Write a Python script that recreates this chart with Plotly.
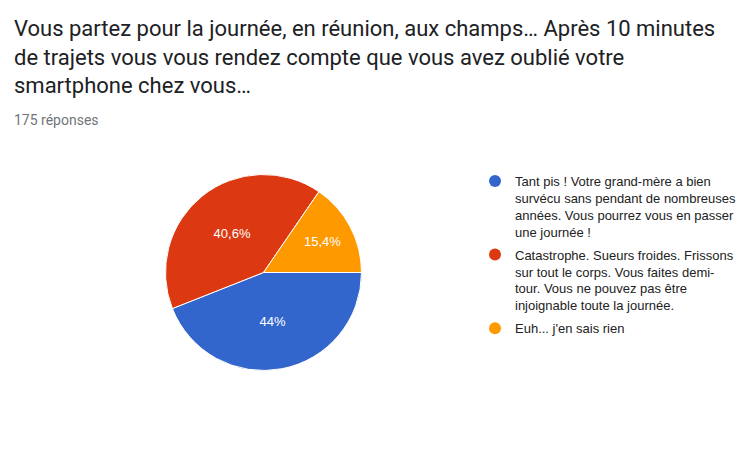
import plotly.graph_objects as go

title_lines = [
    "Vous partez pour la journée, en réunion, aux champs… Après 10 minutes",
    "de trajets vous vous rendez compte que vous avez oublié votre",
    "smartphone chez vous…",
]
subtitle = "175 réponses"
legend_lines = [
    ["Tant pis ! Votre grand-mère a bien", "survécu sans pendant de nombreuses",
     "années. Vous pourrez vous en passer", "une journée !"],
    ["Catastrophe. Sueurs froides. Frissons", "sur tout le corps. Vous faites demi-",
     "tour. Vous ne pouvez pas être", "injoignable toute la journée."],
    ["Euh... j'en sais rien"],
]
labels = [" ".join(l) for l in legend_lines]
counts = [77, 71, 27]
colors = ["#3366CC", "#DC3912", "#FF9900"]

W, H = 751, 456
fig = go.Figure()
fig.add_trace(go.Pie(
    labels=labels, values=counts, sort=False, direction="clockwise", rotation=90,
    marker=dict(colors=colors, line=dict(color="white", width=1)),
    textinfo="percent", textposition="inside", insidetextorientation="horizontal",
    textfont=dict(color="white", size=13, family="Liberation Sans, Arial, sans-serif"),
    showlegend=False, hoverinfo="label+percent",
    domain=dict(x=[(263.5 - 98) / W, (263.5 + 98) / W], y=[1 - 370.5 / H, 1 - 174.5 / H]),
))
for i, (lines, c) in enumerate(zip(legend_lines, colors)):
    fig.add_trace(go.Scatter(
        x=[None], y=[None], mode="markers", name="<br>".join(lines),
        marker=dict(symbol="circle", size=13, color=c),
        legendgroup=f"g{i}", showlegend=True, hoverinfo="skip",
    ))

fig.update_layout(
    width=W, height=H, margin=dict(l=0, r=0, t=0, b=0),
    paper_bgcolor="white", plot_bgcolor="white",
    separators=", ",
    xaxis=dict(visible=False), yaxis=dict(visible=False),
    legend=dict(x=475 / W, xanchor="left", y=1 - 166 / H, yanchor="top", valign="top",
                font=dict(family="Liberation Sans, Arial, sans-serif", size=13, color="#222222"),
                tracegroupgap=3, itemsizing="constant", bgcolor="rgba(0,0,0,0)"),
    annotations=[
        dict(text="<br>".join(title_lines), x=12 / W, y=1 - 14 / H, xref="paper", yref="paper",
             xanchor="left", yanchor="top", align="left", showarrow=False,
             font=dict(family="Roboto, Arial, sans-serif", size=22, color="#202124")),
        dict(text=subtitle, x=12 / W, y=1 - 120 / H, xref="paper", yref="paper",
             xanchor="left", yanchor="middle", showarrow=False,
             font=dict(family="Roboto, Arial, sans-serif", size=14, color="#70757a")),
    ],
)
fig.write_html("out.html")
